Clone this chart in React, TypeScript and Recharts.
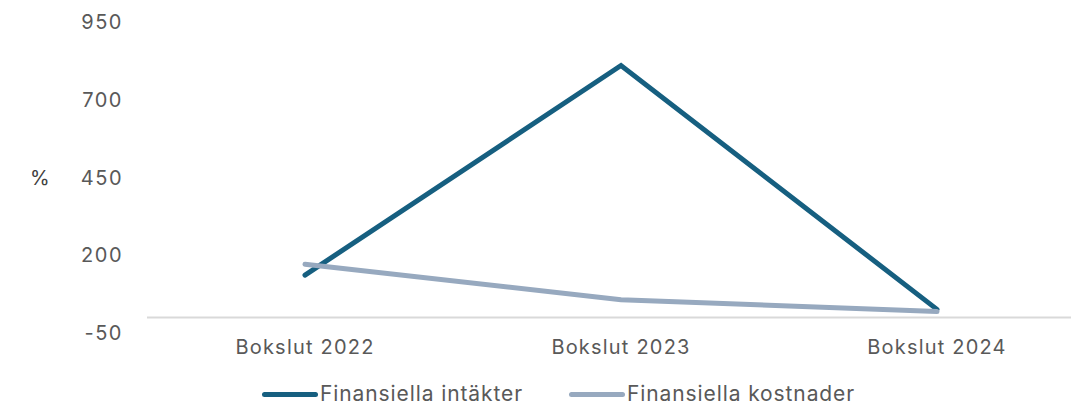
import {
  LineChart,
  Line,
  XAxis,
  YAxis,
  ReferenceLine,
  Legend,
  Label,
} from "recharts";

const categories = ["Bokslut 2022", "Bokslut 2023", "Bokslut 2024"];
const intakter = [136, 810, 26];
const kostnader = [171, 57, 19];
const yTicks = [-50, 200, 450, 700, 950];

const DARK = "#165f80";
const LIGHT = "#97a9bf";
const FONT = "Inter, 'Noto Sans', sans-serif";

const data = categories.map((name, i) => ({
  name,
  intakter: intakter[i],
  kostnader: kostnader[i],
}));

const legendItems = [
  { label: "Finansiella intäkter", color: DARK },
  { label: "Finansiella kostnader", color: LIGHT },
];

function LegendContent() {
  return (
    <div
      style={{
        display: "flex",
        alignItems: "center",
        fontFamily: FONT,
        height: 20,
      }}
    >
      {legendItems.map((it, i) => (
        <div
          key={it.label}
          style={{ display: "flex", alignItems: "center", marginRight: i === 0 ? 46 : 0 }}
        >
          <span
            style={{
              display: "inline-block",
              width: 56,
              height: 5,
              borderRadius: 3,
              background: it.color,
              marginRight: 2,
            }}
          />
          <span style={{ fontSize: 21, color: "#595959", letterSpacing: 0.9, lineHeight: "20px" }}>
            {it.label}
          </span>
        </div>
      ))}
    </div>
  );
}

export default function App() {
  return (
    <div
      style={{
        position: "absolute",
        left: 0,
        top: 0,
        width: 1071,
        height: 405,
        overflow: "hidden",
        background: "#fff",
      }}
    >
      <LineChart
        width={1095}
        height={405}
        data={data}
        margin={{ top: 22, right: 0, bottom: 10, left: 0 }}
      >
        <XAxis
          dataKey="name"
          axisLine={false}
          tickLine={false}
          tickSize={0}
          tickMargin={7}
          height={42}
          padding={{ left: 158, right: 158 }}
          tick={{ fill: "#595959", fontSize: 20, fontFamily: FONT, letterSpacing: 1.2 }}
        />
        <YAxis
          domain={[-50, 950]}
          ticks={yTicks}
          interval={0}
          axisLine={false}
          tickLine={false}
          tickSize={0}
          tickMargin={24}
          width={147}
          tick={{ fill: "#595959", fontSize: 20, fontFamily: FONT, letterSpacing: 1.5 }}
        >
          <Label
            value="%"
            position="insideLeft"
            offset={30}
            style={{ fill: "#404040", fontSize: 20, fontFamily: FONT }}
          />
        </YAxis>
        <ReferenceLine y={0} stroke="#d9d9d9" strokeWidth={2} />
        <Legend
          verticalAlign="bottom"
          content={<LegendContent />}
          wrapperStyle={{ left: 262, bottom: 1, width: "auto", height: 20 }}
        />
        <Line
          dataKey="intakter"
          stroke={DARK}
          strokeWidth={5}
          strokeLinecap="round"
          dot={false}
          activeDot={false}
          isAnimationActive={false}
        />
        <Line
          dataKey="kostnader"
          stroke={LIGHT}
          strokeWidth={5}
          strokeLinecap="round"
          dot={false}
          activeDot={false}
          isAnimationActive={false}
        />
      </LineChart>
    </div>
  );
}
